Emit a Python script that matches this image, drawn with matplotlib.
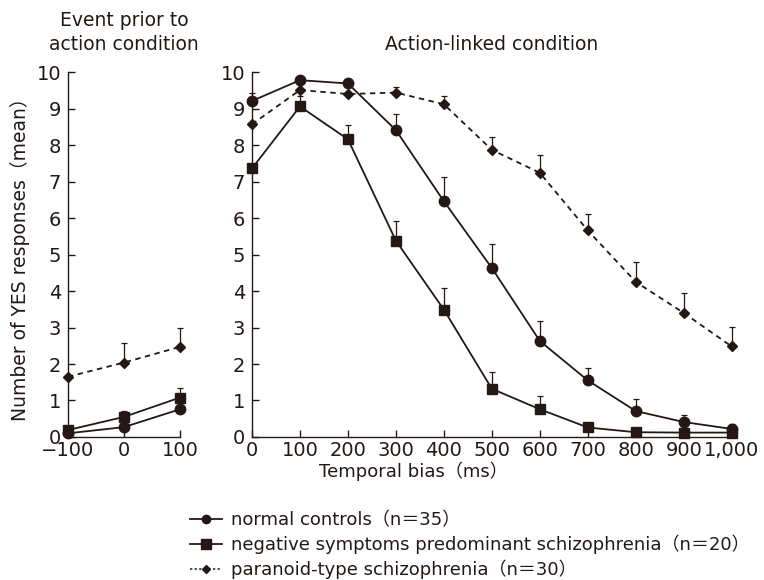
import numpy as np
import matplotlib.pyplot as plt
from matplotlib.lines import Line2D

plt.rcParams['font.family'] = ['DejaVu Sans', 'Noto Sans CJK JP']

INK = '#231815'

# Event prior to action condition
bias_prior = [-100, 0, 100]
normal_prior = [0.10, 0.27, 0.76]
normal_prior_err = [0.0, 0.0, 0.0]
negative_prior = [0.19, 0.55, 1.08]
negative_prior_err = [0.0, 0.15, 0.26]
paranoid_prior = [1.65, 2.04, 2.47]
paranoid_prior_err = [0.0, 0.53, 0.53]

# Action-linked condition
bias_action = [0, 100, 200, 300, 400, 500, 600, 700, 800, 900, 1000]
normal_action = [9.21, 9.78, 9.69, 8.41, 6.46, 4.63, 2.63, 1.55, 0.71, 0.41, 0.22]
normal_action_err = [0.21, 0.08, 0.0, 0.44, 0.66, 0.66, 0.54, 0.35, 0.34, 0.20, 0.14]
negative_action = [7.36, 9.06, 8.16, 5.38, 3.49, 1.32, 0.76, 0.26, 0.13, 0.12, 0.12]
negative_action_err = [0.0, 0.29, 0.38, 0.55, 0.58, 0.45, 0.37, 0.0, 0.0, 0.0, 0.0]
paranoid_action = [8.57, 9.51, 9.40, 9.44, 9.12, 7.87, 7.24, 5.66, 4.25, 3.40, 2.48]
paranoid_action_err = [0.0, 0.0, 0.0, 0.16, 0.22, 0.36, 0.49, 0.46, 0.54, 0.54, 0.53]

xticks_prior = [-100, 0, 100]
xticklabels_prior = ['\u2212100', '0', '100']
xticks_action = [0, 100, 200, 300, 400, 500, 600, 700, 800, 900, 1000]
xticklabels_action = ['0', '100', '200', '300', '400', '500', '600', '700', '800', '900', '1,000']

styles = {
    'normal': dict(marker='o', ms=7.5, ls='-'),
    'negative': dict(marker='s', ms=7.5, ls='-'),
    'paranoid': dict(marker='D', ms=5, ls=(0, (3, 2.5))),
}


def draw(ax, x, y, err, style):
    ax.errorbar(x, y, yerr=[np.zeros(len(err)), err], color=INK, ecolor=INK,
                elinewidth=0.9, capsize=2, capthick=0.9, lw=1.3,
                marker=style['marker'], ms=style['ms'], ls=style['ls'],
                mfc=INK, mec=INK, clip_on=False, zorder=3)


fig = plt.figure(figsize=(7.64, 5.8), dpi=100)
ax1 = fig.add_axes([0.089, 0.2466, 0.1466, 0.629])
ax2 = fig.add_axes([0.3298, 0.2466, 0.628, 0.629])

draw(ax1, bias_prior, paranoid_prior, paranoid_prior_err, styles['paranoid'])
draw(ax1, bias_prior, negative_prior, negative_prior_err, styles['negative'])
draw(ax1, bias_prior, normal_prior, normal_prior_err, styles['normal'])

draw(ax2, bias_action, paranoid_action, paranoid_action_err, styles['paranoid'])
draw(ax2, bias_action, negative_action, negative_action_err, styles['negative'])
draw(ax2, bias_action, normal_action, normal_action_err, styles['normal'])

for ax in (ax1, ax2):
    ax.set_ylim(0, 10)
    ax.set_yticks(range(0, 11))
    for side in ('top', 'right'):
        ax.spines[side].set_visible(False)
    for side in ('left', 'bottom'):
        ax.spines[side].set_color(INK)
        ax.spines[side].set_linewidth(1.0)
    ax.tick_params(direction='in', length=5, width=1.0, colors=INK,
                   labelsize=14, labelcolor=INK)
    ax.tick_params(axis='y', pad=5)
    ax.tick_params(axis='x', pad=3)

ax1.set_xlim(-100, 100)
ax1.set_xticks(xticks_prior)
ax1.set_xticklabels(xticklabels_prior)
ax2.set_xlim(0, 1000)
ax2.set_xticks(xticks_action)
ax2.set_xticklabels(xticklabels_action)

ax1.set_title('Event prior to\naction condition', fontsize=13.5, color=INK,
              pad=16, linespacing=1.3)
ax2.set_title('Action-linked condition', fontsize=13.5, color=INK, pad=16)
ax1.set_ylabel('Number of YES responses\uff08mean\uff09', fontsize=13.5,
               color=INK)
ax1.yaxis.set_label_coords(-0.34, 0.5)
ax2.set_xlabel('Temporal bias\uff08ms\uff09', fontsize=13, color=INK)
ax2.xaxis.set_label_coords(0.337, -0.068)

handles = [
    Line2D([], [], color=INK, lw=1.3, marker='o', ms=6, ls='-'),
    Line2D([], [], color=INK, lw=1.3, marker='s', ms=7, ls='-'),
    Line2D([], [], color=INK, lw=1.1, marker='D', ms=4, ls=(0, (1.5, 1.5))),
]
labels = [
    'normal controls\uff08n\uff1d35\uff09',
    'negative symptoms predominant schizophrenia\uff08n\uff1d20\uff09',
    'paranoid-type schizophrenia\uff08n\uff1d30\uff09',
]
fig.legend(handles, labels, loc='upper left', bbox_to_anchor=(0.228, 1 - 495 / 580),
           frameon=False, fontsize=13, handlelength=1.76, handletextpad=0.5,
           labelspacing=0.3, labelcolor=INK, numpoints=1)

fig.savefig('out.png', dpi=100)
